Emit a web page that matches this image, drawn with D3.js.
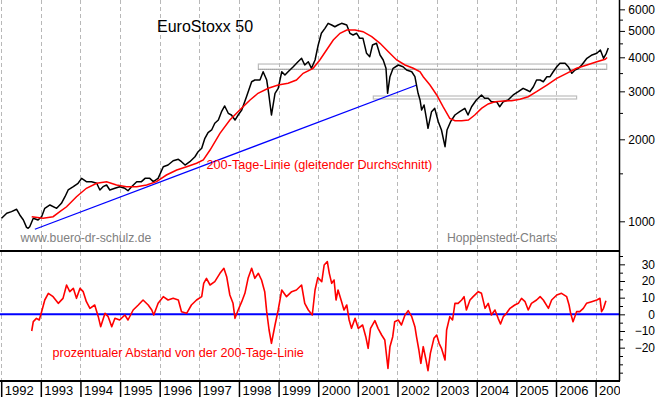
<!DOCTYPE html>
<html>
<head>
<meta charset="utf-8">
<script src="https://cdn.jsdelivr.net/npm/d3@7"></script>
<style>
  body { margin: 0; background: #fff; }
  svg { display: block; font-family: "Liberation Sans", Arial, sans-serif; }
</style>
</head>
<body>
<svg id="chart" width="660" height="397"></svg>
<script>
// EuroStoxx 50 price (decimal year, points)
let priceData = [
  [1992.01,1026],[1992.14,1070],[1992.26,1085],[1992.39,1107],[1992.47,1055],[1992.56,1011],
  [1992.64,950],[1992.68,943],[1992.72,955],[1992.81,1026],[1992.93,1011],[1993.02,1040],
  [1993.10,1116],[1993.23,1148],[1993.40,1116],[1993.52,1164],[1993.61,1231],[1993.69,1303],
  [1993.82,1340],[1993.94,1379],[1994.03,1438],[1994.15,1398],[1994.28,1398],[1994.41,1379],
  [1994.49,1303],[1994.57,1340],[1994.66,1359],[1994.74,1303],[1994.87,1322],[1994.99,1340],
  [1995.12,1322],[1995.20,1295],[1995.29,1340],[1995.42,1398],[1995.54,1398],[1995.63,1438],
  [1995.75,1438],[1995.84,1398],[1995.96,1438],[1996.09,1586],[1996.21,1609],[1996.34,1669],
  [1996.47,1689],[1996.55,1655],[1996.64,1609],[1996.76,1655],[1996.89,1726],[1996.97,1801],
  [1997.06,1854],[1997.14,2017],[1997.22,2118],[1997.31,2164],[1997.39,2290],[1997.48,2354],
  [1997.56,2526],[1997.64,2651],[1997.73,2492],[1997.81,2456],[1997.90,2354],[1997.98,2456],
  [1998.07,2562],[1998.19,2867],[1998.32,3254],[1998.40,3301],[1998.53,3301],[1998.61,3541],
  [1998.70,3301],[1998.75,2951],[1998.82,2456],[1998.91,2951],[1998.99,3078],[1999.08,3541],
  [1999.16,3444],[1999.24,3541],[1999.37,3694],[1999.49,3854],[1999.58,3966],[1999.66,3748],
  [1999.75,3854],[1999.83,3645],[1999.92,3910],[2000.00,4438],[2000.08,4900],[2000.17,5111],
  [2000.25,5332],[2000.34,5255],[2000.42,5180],[2000.50,5255],[2000.59,5332],[2000.72,5255],
  [2000.80,4900],[2000.88,4830],[2000.97,4900],[2001.05,4697],[2001.13,4697],[2001.22,4137],
  [2001.30,4021],[2001.37,4438],[2001.47,4503],[2001.56,4079],[2001.64,3910],[2001.71,3645],
  [2001.75,2951],[2001.81,3395],[2001.89,3645],[2002.02,3748],[2002.14,3694],[2002.23,3592],
  [2002.36,3541],[2002.44,3395],[2002.52,2951],[2002.57,2788],[2002.61,2562],[2002.67,2673],
  [2002.73,2388],[2002.77,2194],[2002.86,2526],[2002.94,2598],[2003.03,2321],[2003.11,2164],
  [2003.20,1879],[2003.25,2164],[2003.34,2321],[2003.45,2456],[2003.57,2526],[2003.70,2598],
  [2003.78,2456],[2003.87,2634],[2003.99,2788],[2004.12,2909],[2004.20,2829],[2004.29,2829],
  [2004.37,2749],[2004.50,2749],[2004.58,2634],[2004.67,2749],[2004.79,2788],[2004.92,2909],
  [2005.05,2991],[2005.17,3078],[2005.26,3034],[2005.34,2991],[2005.43,3120],[2005.51,3301],
  [2005.60,3301],[2005.68,3254],[2005.77,3395],[2005.85,3395],[2005.93,3541],[2006.02,3694],
  [2006.10,3802],[2006.23,3802],[2006.31,3694],[2006.40,3494],[2006.48,3592],[2006.57,3645],
  [2006.65,3748],[2006.78,3966],[2006.91,4079],[2007.03,4137],[2007.12,4255],[2007.20,3966],
  [2007.27,4137],[2007.32,4327]
];

// 200-Tage-Linie
let maData = [
  [1992.77,1040],[1993.06,1026],[1993.31,1040],[1993.48,1085],[1993.65,1131],[1993.90,1231],
  [1994.15,1322],[1994.41,1379],[1994.66,1398],[1994.91,1359],[1995.16,1340],[1995.42,1340],
  [1995.67,1359],[1995.92,1398],[1996.17,1479],[1996.43,1543],[1996.68,1586],[1996.93,1633],
  [1997.10,1679],[1997.27,1827],[1997.52,2104],[1997.77,2354],[1998.02,2562],[1998.28,2788],
  [1998.48,2951],[1998.74,3078],[1998.99,3165],[1999.24,3211],[1999.45,3301],[1999.62,3494],
  [1999.87,3645],[2000.04,3910],[2000.21,4255],[2000.38,4630],[2000.55,4900],[2000.72,5039],
  [2000.93,5039],[2001.13,4966],[2001.35,4761],[2001.56,4503],[2001.77,4194],[2001.98,3910],
  [2002.19,3748],[2002.40,3645],[2002.57,3541],[2002.65,3395],[2002.82,3165],[2002.99,2909],
  [2003.15,2634],[2003.32,2388],[2003.45,2341],[2003.62,2341],[2003.79,2354],[2003.95,2456],
  [2004.12,2598],[2004.29,2696],[2004.46,2749],[2004.67,2765],[2004.88,2772],[2005.09,2805],
  [2005.30,2867],[2005.51,2991],[2005.77,3165],[2006.02,3350],[2006.27,3494],[2006.52,3645],
  [2006.78,3748],[2007.03,3854],[2007.24,3933],[2007.29,3993]
];

// Abstand zur 200-Tage-Linie in Prozent
let oscData = [
  [1992.77,-10],[1992.81,-4.4],[1992.89,-2.4],[1992.96,-3.4],[1993.02,1.6],[1993.10,8.6],
  [1993.19,12.6],[1993.31,10.6],[1993.44,6.6],[1993.56,9.6],[1993.65,17.6],[1993.73,13.6],
  [1993.82,15.6],[1993.90,9.6],[1993.99,15.6],[1994.07,13.6],[1994.15,7.6],[1994.24,3.6],
  [1994.36,5.6],[1994.45,-1.4],[1994.51,-7.4],[1994.62,0.6],[1994.70,-1.4],[1994.79,-7.4],
  [1994.87,-2.4],[1994.99,-3.4],[1995.12,-0.4],[1995.20,-3.4],[1995.33,2.6],[1995.46,5.6],
  [1995.58,8.6],[1995.71,5.6],[1995.80,2.6],[1995.85,-0.4],[1995.96,6.6],[1996.09,10.6],
  [1996.21,8.6],[1996.34,9.6],[1996.47,8.6],[1996.55,1.6],[1996.68,0.6],[1996.80,5.6],
  [1996.93,8.6],[1997.06,10.6],[1997.11,18.6],[1997.18,21.6],[1997.27,17.6],[1997.39,19.6],
  [1997.52,24.6],[1997.62,27.6],[1997.69,22.6],[1997.77,11.6],[1997.85,6.6],[1997.90,-2.4],
  [1997.98,2.6],[1998.07,7.6],[1998.15,12.6],[1998.23,21.6],[1998.32,27.6],[1998.40,21.6],
  [1998.49,24.6],[1998.57,20.6],[1998.65,13.6],[1998.70,1.6],[1998.76,-9.4],[1998.82,-17.4],
  [1998.91,-6.4],[1998.99,2.6],[1999.08,14.6],[1999.20,10.6],[1999.33,13.6],[1999.45,14.6],
  [1999.58,17.6],[1999.66,6.6],[1999.75,2.6],[1999.85,-0.4],[1999.92,14.6],[1999.99,22],
  [2000.09,19.6],[2000.15,29.6],[2000.23,31.6],[2000.28,24.6],[2000.34,18.6],[2000.40,20.6],
  [2000.45,8.6],[2000.50,14.6],[2000.59,7.6],[2000.65,2.6],[2000.72,5.6],[2000.78,-3.4],
  [2000.84,-8.4],[2000.93,-2.4],[2001.01,-8.4],[2001.12,-6.4],[2001.20,-13.4],[2001.26,-20.4],
  [2001.32,-8.4],[2001.43,-3.8],[2001.51,-8.4],[2001.60,-12.4],[2001.68,-15.4],[2001.76,-32.4],
  [2001.81,-19.4],[2001.88,-13.4],[2001.93,-4.4],[2002.02,-3.4],[2002.10,-6.4],[2002.19,-0.4],
  [2002.27,2.2],[2002.36,-1.4],[2002.44,-7.4],[2002.48,-13.4],[2002.54,-21.4],[2002.59,-29.4],
  [2002.65,-19.4],[2002.72,-27.4],[2002.77,-33.8],[2002.83,-23.4],[2002.92,-14.4],[2002.99,-12.4],
  [2003.05,-17.4],[2003.11,-20.4],[2003.20,-27.4],[2003.24,-9.4],[2003.32,-1.4],[2003.39,-3.4],
  [2003.45,6.6],[2003.53,6.6],[2003.62,8.6],[2003.68,10.6],[2003.74,2.6],[2003.83,8.6],
  [2003.91,10.6],[2004.04,13.6],[2004.12,12.6],[2004.21,3.6],[2004.29,6.6],[2004.37,-0.4],
  [2004.46,2.6],[2004.54,-2.4],[2004.60,-5.8],[2004.67,-1.4],[2004.75,0.6],[2004.84,3.6],
  [2004.96,5.6],[2005.05,6.6],[2005.13,9.6],[2005.22,7.6],[2005.30,2.6],[2005.38,6.6],
  [2005.51,8.6],[2005.60,10.6],[2005.68,8.6],[2005.81,3.6],[2005.89,8.6],[2006.02,11.6],
  [2006.14,12.6],[2006.27,10.6],[2006.33,5.6],[2006.37,0.6],[2006.43,-4.4],[2006.52,1.6],
  [2006.60,1.6],[2006.69,3.6],[2006.77,6.6],[2006.90,7.6],[2007.03,8.6],[2007.11,9.6],
  [2007.15,1.6],[2007.20,3.6],[2007.26,8.2]
];

// Trendlinie (blau) und Widerstands-/Unterstuetzungszonen (grau)
let trendLine = [[1992.85,935],[2002.49,3165]];
let zones = [
  [1998.49,2007.28,3614,3779],
  [2001.39,2006.52,2812,2884]
];

let years = d3.range(1992, 2008);
let priceTicks = [1000,2000,3000,4000,5000,6000];
let priceMinor = [1500,2500,3500,4500,5500];
let oscTicks = [-20,-10,0,10,20,30];
let oscMinor = [-35,-30,-25,-15,-5,5,15,25,35];

let svg = d3.select("#chart");
let W = 619, topH = 251, bottom = 381;

let x = d3.scaleLinear().domain([1991.97, 2007.59]).range([0, W]);
let yPrice = d3.scaleLog().domain([778, 6493]).range([topH, 0]);
let yOsc = d3.scaleLinear().domain([-40, 38]).range([bottom, topH]);

svg.append("rect").attr("width",660).attr("height",397).attr("fill","#fff");

// vertical year grid
svg.append("g")
  .selectAll("line")
  .data(years)
  .enter()
  .append("line")
  .attr("x1", d => Math.round(x(d)) + 0.5)
  .attr("x2", d => Math.round(x(d)) + 0.5)
  .attr("y1", 0)
  .attr("y2", bottom)
  .attr("stroke", "#b8b8b8")
  .attr("stroke-dasharray", "4,3");

// zones
svg.append("g")
  .selectAll("rect")
  .data(zones)
  .enter()
  .append("rect")
  .attr("x", d => x(d[0]))
  .attr("width", d => x(d[1]) - x(d[0]))
  .attr("y", d => yPrice(d[3]))
  .attr("height", d => yPrice(d[2]) - yPrice(d[3]))
  .attr("fill", "none")
  .attr("stroke", "#bdbdbd")
  .attr("stroke-width", 1.2);
svg.append("line")
  .attr("x1", x(zones[0][0])).attr("x2", x(zones[0][1]))
  .attr("y1", yPrice(zones[0][2])).attr("y2", yPrice(zones[0][2]))
  .attr("stroke", "#888").attr("stroke-dasharray", "1,1");

let priceLine = d3.line().x(d => x(d[0])).y(d => yPrice(d[1]));
let oscLine = d3.line().x(d => x(d[0])).y(d => yOsc(d[1]));

svg.append("path")
  .attr("d", priceLine(trendLine))
  .attr("fill", "none").attr("stroke", "#0000ff").attr("stroke-width", 1.3);

svg.append("path")
  .attr("d", priceLine(priceData))
  .attr("fill", "none").attr("stroke", "#000").attr("stroke-width", 1.5)
  .attr("stroke-linejoin", "round");

svg.append("path")
  .attr("d", priceLine(maData))
  .attr("fill", "none").attr("stroke", "#ff0000").attr("stroke-width", 1.5);

// lower panel
svg.append("line")
  .attr("x1", 0).attr("x2", W)
  .attr("y1", yOsc(0)).attr("y2", yOsc(0))
  .attr("stroke", "#0000ff").attr("stroke-width", 2);

svg.append("path")
  .attr("d", oscLine(oscData))
  .attr("fill", "none").attr("stroke", "#ff0000").attr("stroke-width", 1.6)
  .attr("stroke-linejoin", "round");

// panel borders
svg.append("line").attr("x1",0).attr("x2",W+1).attr("y1",topH).attr("y2",topH)
  .attr("stroke","#000").attr("stroke-width",2);
svg.append("line").attr("x1",0).attr("x2",W+1).attr("y1",bottom).attr("y2",bottom)
  .attr("stroke","#000").attr("stroke-width",2);

// right axes
let axPrice = svg.append("g").attr("transform", "translate(" + W + ",0)")
  .call(d3.axisRight(yPrice).tickValues(priceTicks).tickSize(6).tickSizeOuter(0)
    .tickFormat(d3.format("d")));
let axPriceMinor = svg.append("g").attr("transform", "translate(" + W + ",0)")
  .call(d3.axisRight(yPrice).tickValues(priceMinor).tickSize(4).tickFormat(""));
let axOsc = svg.append("g").attr("transform", "translate(" + W + ",0)")
  .call(d3.axisRight(yOsc).tickValues(oscTicks).tickSize(6).tickSizeOuter(0)
    .tickFormat(d3.format("d")));
let axOscMinor = svg.append("g").attr("transform", "translate(" + W + ",0)")
  .call(d3.axisRight(yOsc).tickValues(oscMinor).tickSize(4).tickFormat(""));

[axPrice, axPriceMinor, axOsc, axOscMinor].forEach(g => {
  g.select(".domain").remove();
  g.selectAll("line").attr("stroke", "#000");
  g.selectAll("text")
    .attr("x", 36)
    .attr("text-anchor", "end")
    .attr("font-size", 12)
    .attr("font-family", "Liberation Sans, Arial, sans-serif")
    .attr("fill", "#000");
});
svg.append("line").attr("x1",W+0.5).attr("x2",W+0.5).attr("y1",0).attr("y2",bottom)
  .attr("stroke","#000").attr("stroke-width",1.5);

// bottom axis (years)
svg.append("clipPath").attr("id","clipYears")
  .append("rect").attr("x",0).attr("y",bottom).attr("width",W+1).attr("height",20);
let axYears = svg.append("g").attr("transform", "translate(0," + bottom + ")")
  .attr("clip-path", "url(#clipYears)")
  .call(d3.axisBottom(x).tickValues(years).tickSize(16).tickSizeOuter(0)
    .tickFormat(d3.format("d")));
axYears.select(".domain").remove();
axYears.selectAll("line").attr("stroke", "#000").attr("stroke-width", 1.5);
axYears.selectAll("text")
  .attr("x", 3).attr("y", 14).attr("dy", null)
  .attr("text-anchor", "start")
  .attr("font-size", 13)
  .attr("font-family", "Liberation Sans, Arial, sans-serif")
  .attr("fill", "#000");
axYears.attr("clip-path", null);
svg.append("g").attr("clip-path", "url(#clipYears)").node().appendChild(axYears.node());

// texts
svg.append("text").attr("x",157).attr("y",31.5).attr("font-size",16)
  .attr("fill","#000").text("EuroStoxx 50");
svg.append("text").attr("x",206.5).attr("y",168.5).attr("font-size",12.7)
  .attr("fill","#ff0000").text("200-Tage-Linie (gleitender Durchschnitt)");
svg.append("text").attr("x",20.5).attr("y",241.5).attr("font-size",12.2)
  .attr("fill","#808080").text("www.buero-dr-schulz.de");
svg.append("text").attr("x",556).attr("y",241.5).attr("font-size",12.2)
  .attr("text-anchor","end")
  .attr("fill","#808080").text("Hoppenstedt-Charts");
svg.append("text").attr("x",52.5).attr("y",357.3).attr("font-size",12.6)
  .attr("fill","#ff0000").text("prozentualer Abstand von der 200-Tage-Linie");
</script>
</body>
</html>
